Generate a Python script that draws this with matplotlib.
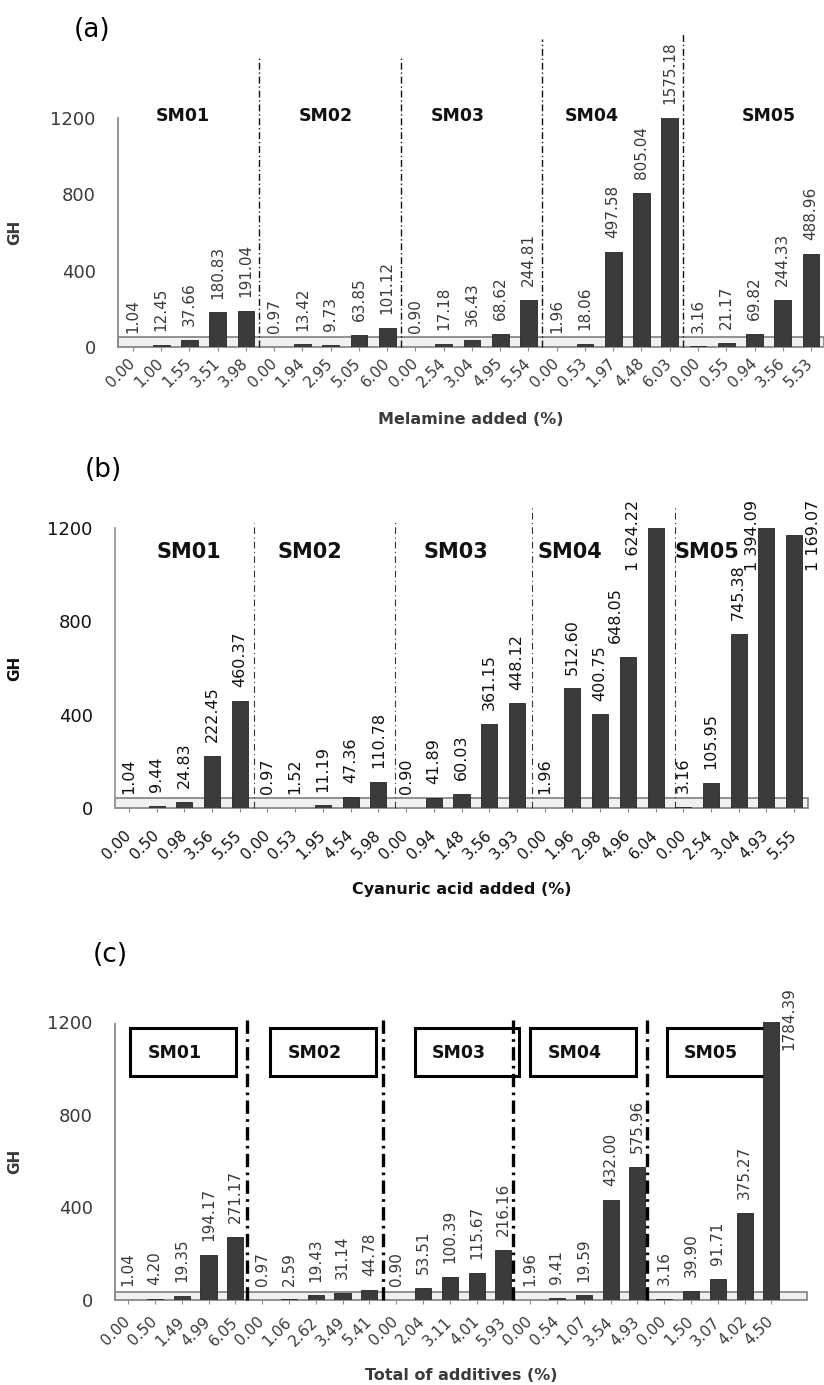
import matplotlib
matplotlib.use("Agg")
import matplotlib.pyplot as plt
from matplotlib.patches import Rectangle

# --- data ---
groups = ["SM01", "SM02", "SM03", "SM04", "SM05"]

mel_ticks = ["0.00", "1.00", "1.55", "3.51", "3.98",
             "0.00", "1.94", "2.95", "5.05", "6.00",
             "0.00", "2.54", "3.04", "4.95", "5.54",
             "0.00", "0.53", "1.97", "4.48", "6.03",
             "0.00", "0.55", "0.94", "3.56", "5.53"]
mel_gh = [1.04, 12.45, 37.66, 180.83, 191.04,
          0.97, 13.42, 9.73, 63.85, 101.12,
          0.90, 17.18, 36.43, 68.62, 244.81,
          1.96, 18.06, 497.58, 805.04, 1575.18,
          3.16, 21.17, 69.82, 244.33, 488.96]

cya_ticks = ["0.00", "0.50", "0.98", "3.56", "5.55",
             "0.00", "0.53", "1.95", "4.54", "5.98",
             "0.00", "0.94", "1.48", "3.56", "3.93",
             "0.00", "1.96", "2.98", "4.96", "6.04",
             "0.00", "2.54", "3.04", "4.93", "5.55"]
cya_gh = [1.04, 9.44, 24.83, 222.45, 460.37,
          0.97, 1.52, 11.19, 47.36, 110.78,
          0.90, 41.89, 60.03, 361.15, 448.12,
          1.96, 512.60, 400.75, 648.05, 1624.22,
          3.16, 105.95, 745.38, 1394.09, 1169.07]

tot_ticks = ["0.00", "0.50", "1.49", "4.99", "6.05",
             "0.00", "1.06", "2.62", "3.49", "5.41",
             "0.00", "2.04", "3.11", "4.01", "5.93",
             "0.00", "0.54", "1.07", "3.54", "4.93",
             "0.00", "1.50", "3.07", "4.02", "4.50"]
tot_gh = [1.04, 4.20, 19.35, 194.17, 271.17,
          0.97, 2.59, 19.43, 31.14, 44.78,
          0.90, 53.51, 100.39, 115.67, 216.16,
          1.96, 9.41, 19.59, 432.00, 575.96,
          3.16, 39.90, 91.71, 375.27, 1784.39]

yticks = [0, 400, 800, 1200]

# --- figure in pixel terms ---
W, H = 824, 1385
fig = plt.figure(figsize=(W / 100, H / 100), dpi=100)


def make_ax(l, t, r, b):
    return fig.add_axes([l / W, 1 - b / H, (r - l) / W, (b - t) / H])


def setup(ax, ticks, xlim, floor_h, txt_col, spine_ls, xlabel, xl_off, tick_pad):
    n = len(ticks)
    ax.set_xlim(*xlim)
    ax.set_ylim(0, 1200)
    for s in ["top", "right", "bottom"]:
        ax.spines[s].set_visible(False)
    ax.spines["left"].set_color("#8a8a8a")
    ax.spines["left"].set_linewidth(1.3)
    ax.spines["left"].set_linestyle(spine_ls)
    ax.set_yticks(yticks)
    ax.tick_params(axis="y", length=0, pad=16, labelsize=13, labelcolor=txt_col)
    ax.set_xticks(range(n))
    ax.set_xticklabels(ticks, rotation=45, ha="right", va="center",
                       rotation_mode="anchor", fontsize=11, color=txt_col)
    ax.tick_params(axis="x", length=3, color="#888888", pad=tick_pad)
    # the 3D floor of the original chart
    ax.add_patch(Rectangle((xlim[0], 0), xlim[1] - xlim[0], floor_h,
                           facecolor="#f0f0f0", edgecolor="#8a8a8a", lw=1.3,
                           zorder=1, clip_on=False))
    ax.set_ylabel("GH", fontsize=11, fontweight="bold", color=txt_col)
    ax.set_xlabel(xlabel, fontsize=11.5, fontweight="bold", color=txt_col)
    ax.xaxis.set_label_coords(0.5, xl_off)


def bars(ax, vals, width, lab_fs, txt_col, fmt, skip=(), shift=None):
    shift = shift or {}
    x = list(range(len(vals)))
    ax.bar(x, vals, width=width, color="#3b3b3b", edgecolor="#262626",
           lw=0.6, zorder=2)
    for i, v in enumerate(vals):
        if i in skip:
            continue
        ax.annotate(fmt(v), xy=(i + shift.get(i, 0), min(v, 1200)),
                    xytext=(0, 10), textcoords="offset points",
                    rotation=90, ha="center", va="bottom", fontsize=lab_fs,
                    color=txt_col, annotation_clip=False)


def dividers(ax, xs, tops, lw, dash, col):
    for x, t in zip(xs, tops):
        ax.plot([x, x], [0, t], color=col, lw=lw, ls=(0, dash),
                zorder=3, clip_on=False)


# ---------- (a) melamine ----------
axa = make_ax(118, 118, 824, 347)
col_a = "#3a3a3a"
setup(axa, mel_ticks, (-0.53, 24.46), 52, col_a, (0, (1, 1)),
      "Melamine added (%)", -65 / 229, 7)
axa.yaxis.set_label_coords((22 - 118) / 706, 0.5)
bars(axa, mel_gh, 0.6, 11, col_a, lambda v: f"{v:.2f}")
dividers(axa, [4.46, 9.49, 14.48, 19.47], [1520, 1520, 1614, 1650],
         1.0, (5, 2, 1, 2), "#111111")
for g, gx in zip(groups, [1.77, 6.83, 11.5, 16.25, 22.5]):
    axa.text(gx, 1210, g, ha="center", va="center", fontsize=12.5,
             fontweight="bold", color="#111111", clip_on=False)
fig.text(92 / W, 1 - 30 / H, "(a)", fontsize=19, ha="center", va="center")

# ---------- (b) cyanuric acid ----------
axb = make_ax(115, 528, 808, 808)
col_b = "#111111"
setup(axb, cya_ticks, (-0.5, 24.5), 43, col_b, "-",
      "Cyanuric acid added (%)", -74 / 280, 15)
axb.spines["left"].set_color("#9a9a9a")
axb.yaxis.set_label_coords((22 - 115) / 693, 0.5)
b_side = {19: (-0.8, 1320), 23: (-0.5, 1320), 24: (0.7, 1320)}
fmt_b = lambda v: f"{v:,.2f}".replace(",", " ")
bars(axb, cya_gh, 0.58, 11.5, col_b, fmt_b, skip=b_side, shift={18: -0.45})
for i, (dx, ty) in b_side.items():
    axb.text(i + dx, ty, fmt_b(cya_gh[i]), rotation=90, ha="center", va="top",
             fontsize=11.5, color=col_b, clip_on=False)
dividers(axb, [4.5, 9.6, 14.55, 19.71], [1221, 1230, 1286, 1299],
         0.8, (6, 3, 1, 3), "#333333")
for g, gx in zip(groups, [2.17, 6.53, 11.8, 15.9, 20.85]):
    axb.text(gx, 1095, g, ha="center", va="center", fontsize=15,
             fontweight="bold", color="#111111", zorder=4)
fig.text(103 / W, 1 - 470 / H, "(b)", fontsize=19, ha="center", va="center")

# ---------- (c) total additives ----------
axc = make_ax(115, 1022, 807, 1300)
col_c = "#3a3a3a"
setup(axc, tot_ticks, (-0.49, 25.33), 35, col_c, (0, (1, 1)),
      "Total of additives (%)", -68 / 278, 11)
axc.yaxis.set_label_coords((22 - 115) / 692, 0.5)
c_side = {24: (0.65, 1351)}
bars(axc, tot_gh, 0.6, 11, col_c, lambda v: f"{v:.2f}", skip=c_side)
for i, (dx, ty) in c_side.items():
    axc.text(i + dx, ty, f"{tot_gh[i]:.2f}", rotation=90, ha="center",
             va="top", fontsize=11, color=col_c, clip_on=False)
boxes = [(0.07, 4.03), (5.3, 9.25), (10.7, 14.6), (15.0, 18.95), (20.1, 24.0)]
for g, (x0, x1) in zip(groups, boxes):
    axc.add_patch(Rectangle((x0, 965), x1 - x0, 210, facecolor="white",
                            edgecolor="black", lw=2.2, zorder=1.5))
    axc.text((x0 + x1) / 2 - 0.3, 1066, g, ha="center", va="center",
             fontsize=12.5, fontweight="bold", color="#111111", zorder=4)
dividers(axc, [4.45, 9.5, 14.35, 19.35], [1230] * 4,
         2.4, (4, 1.6, 0.8, 1.6), "#000000")
fig.text(110 / W, 1 - 955 / H, "(c)", fontsize=19, ha="center", va="center")

fig.savefig("out.png", dpi=100)
